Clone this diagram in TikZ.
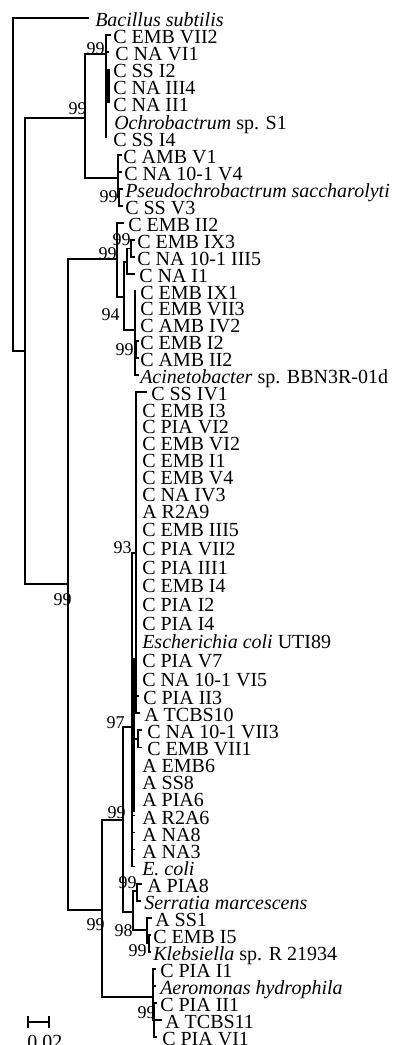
\documentclass[tikz,border=0pt]{standalone}
\usepackage{fontspec}
\setmainfont{Liberation Serif}
\tikzset{
  br/.style={line width=1.2pt, line cap=rect},
  thickbr/.style={line width=2.4pt},
  leaflab/.style={anchor=base west, inner sep=0pt, font=\fontsize{15}{18}\selectfont},
  bs/.style={anchor=base east, inner sep=0pt, font=\fontsize{13.5}{16}\selectfont},
}
\newcommand{\mkleaf}[5]{\coordinate (#1) at (#2,#3);\node[leaflab] (#1t) at (#4,#3+8.5) {#5};}
\begin{document}
\begin{tikzpicture}[x=0.75pt,y=-0.75pt]
\useasboundingbox (0,0) rectangle (398,1045);
% leaves
\mkleaf{l1}{88}{18}{95}{\textit{Bacillus subtilis}}
\mkleaf{l2}{110}{35.1}{113}{C EMB VII2}
\mkleaf{l3}{108}{52.2}{115}{C NA VI1}
\mkleaf{l4}{108}{69.3}{113}{C SS I2}
\mkleaf{l5}{108}{86.4}{113}{C NA III4}
\mkleaf{l6}{108}{103.5}{113}{C NA II1}
\mkleaf{l7}{106}{120.6}{114}{\textit{Ochrobactrum} sp. S1}
\mkleaf{l8}{106}{137.7}{113}{C SS I4}
\mkleaf{l9}{121}{154.8}{123}{C AMB V1}
\mkleaf{l10}{121}{171.9}{124}{C NA 10-1 V4}
\mkleaf{l11}{122}{189}{125}{\textit{Pseudochrobactrum saccharolyti}}
\mkleaf{l12}{122}{206.1}{125}{C SS V3}
\mkleaf{l13}{123}{223.2}{128}{C EMB II2}
\mkleaf{l14}{134}{240.05}{137}{C EMB IX3}
\mkleaf{l15}{134}{256.9}{137}{C NA 10-1 III5}
\mkleaf{l16}{134}{273.75}{139}{C NA I1}
\mkleaf{l17}{135}{290.6}{140}{C EMB IX1}
\mkleaf{l18}{135}{307.45}{140}{C EMB VII3}
\mkleaf{l19}{135}{324.3}{140}{C AMB IV2}
\mkleaf{l20}{138}{341.15}{140}{C EMB I2}
\mkleaf{l21}{138}{358}{140}{C AMB II2}
\mkleaf{l22}{138}{374.85}{140}{\textit{Acinetobacter} sp. BBN3R-01d}
\mkleaf{l23}{146}{391.7}{151}{C SS IV1}
\mkleaf{l24}{136}{408.55}{142}{C EMB I3}
\mkleaf{l25}{136}{425.4}{142}{C PIA VI2}
\mkleaf{l26}{136}{442.25}{142}{C EMB VI2}
\mkleaf{l27}{136}{459.1}{142}{C EMB I1}
\mkleaf{l28}{136}{475.95}{142}{C EMB V4}
\mkleaf{l29}{136}{492.8}{142}{C NA IV3}
\mkleaf{l30}{136}{509.65}{142}{A R2A9}
\mkleaf{l31}{136}{528.3}{142}{C EMB III5}
\mkleaf{l32}{136}{546.95}{142}{C PIA VII2}
\mkleaf{l33}{136}{565.6}{142}{C PIA III1}
\mkleaf{l34}{136}{584.25}{142}{C EMB I4}
\mkleaf{l35}{136}{602.9}{142}{C PIA I2}
\mkleaf{l36}{136}{621.55}{142}{C PIA I4}
\mkleaf{l37}{136}{640.2}{142}{\textit{Escherichia coli} UTI89}
\mkleaf{l38}{136}{658.85}{142}{C PIA V7}
\mkleaf{l39}{136}{677.5}{142}{C NA 10-1 VI5}
\mkleaf{l40}{138}{696.15}{143}{C PIA II3}
\mkleaf{l41}{139}{713.2}{144}{A TCBS10}
\mkleaf{l42}{141}{730.25}{147}{C NA 10-1 VII3}
\mkleaf{l43}{141}{747.3}{147}{C EMB VII1}
\mkleaf{l44}{134}{764.35}{142}{A EMB6}
\mkleaf{l45}{134}{781.4}{142}{A SS8}
\mkleaf{l46}{134}{798.45}{142}{A PIA6}
\mkleaf{l47}{134}{815.5}{142}{A R2A6}
\mkleaf{l48}{134}{832.55}{142}{A NA8}
\mkleaf{l49}{134}{849.6}{142}{A NA3}
\mkleaf{l50}{134}{866.65}{142}{\textit{E. coli}}
\mkleaf{l51}{141}{883.7}{147}{A PIA8}
\mkleaf{l52}{140}{900.75}{144}{\textit{Serratia marcescens}}
\mkleaf{l53}{151}{917.8}{155}{A SS1}
\mkleaf{l54}{150}{934.85}{153}{C EMB I5}
\mkleaf{l55}{150}{951.9}{153}{\textit{Klebsiella} sp. R 21934}
\mkleaf{l56}{155}{968.95}{160}{C PIA I1}
\mkleaf{l57}{155}{986}{160}{\textit{Aeromonas hydrophila}}
\mkleaf{l58}{156}{1003.05}{160}{C PIA II1}
\mkleaf{l59}{161}{1020.1}{165}{A TCBS11}
\mkleaf{l60}{156}{1037.15}{162}{C PIA VI1}
% internal nodes
\coordinate (r0) at (13,184);
\coordinate (a1) at (25,351);
\coordinate (nA) at (85,118);
\coordinate (nB) at (106,54);
\coordinate (nB2) at (108,86.4);
\coordinate (nC) at (118,178);
\coordinate (nC2) at (119,197.5);
\coordinate (nD) at (68,584);
\coordinate (nN2) at (117,259);
\coordinate (nP) at (124,297);
\coordinate (nQ) at (127,262);
\coordinate (nT) at (131,248.5);
\coordinate (nR) at (135,330);
\coordinate (nS) at (136,350);
\coordinate (nE) at (102,910);
\coordinate (nF) at (123,820);
\coordinate (nJ) at (132,727);
\coordinate (nK) at (136,553);
\coordinate (nL) at (138,739);
\coordinate (nG) at (133,912);
\coordinate (nH) at (137,891);
\coordinate (nI) at (147,930);
\coordinate (nI2) at (149,943);
\coordinate (nZ) at (153,997);
\coordinate (nZ2) at (154,1020);
\coordinate (j2a) at (133.5,658);
\coordinate (j2b) at (133.5,812);
% branches
\draw[br] (r0) |- (l1) (r0) |- (a1);
\draw[br] (a1) |- (nA) (a1) |- (nD);
\draw[br] (nA) |- (nB) (nA) |- (nC);
\foreach \c in {l2,l3,nB2,l7,l8} \draw[br] (nB) |- (\c);
\foreach \c in {l4,l5,l6} \draw[thickbr] (nB2) |- (\c);
\foreach \c in {l9,l10,nC2} \draw[br] (nC) |- (\c);
\foreach \c in {l11,l12} \draw[br] (nC2) |- (\c);
\draw[br] (nD) |- (nN2) (nD) |- (nE);
\draw[br] (nN2) |- (l13) (nN2) |- (nP);
\draw[br] (nP) |- (nQ) (nP) |- (nR);
\draw[br] (nQ) |- (nT) (nQ) |- (l16);
\draw[br] (nT) |- (l14) (nT) |- (l15);
\foreach \c in {l17,l18,l19,nS,l22} \draw[br] (nR) |- (\c);
\draw[br] (nS) |- (l20) (nS) |- (l21);
\draw[br] (nE) |- (nF) (nE) |- (nZ);
\draw[br] (nF) |- (nJ) (nF) |- (nG);
\foreach \c in {nK,nL,l44,l45,l46,l47,l48,l49,l50} \draw[br] (nJ) |- (\c);
\foreach \c in {l23,l24,l25,l26,l27,l28,l29,l30,l31,l32,l33,l34,l35,l36,l37,l38,l39,l40,l41} \draw[br] (nK) |- (\c);
\draw[br] (nL) |- (l42) (nL) |- (l43);
\draw[thickbr] (j2a) -- (j2b);
\draw[br] (nG) |- (nH) (nG) |- (nI);
\draw[br] (nH) |- (l51) (nH) |- (l52);
\draw[br] (nI) |- (l53) (nI) |- (nI2);
\draw[br] (nI2) |- (l54) (nI2) |- (l55);
\foreach \c in {l56,l57,nZ2} \draw[br] (nZ) |- (\c);
\foreach \c in {l58,l59,l60} \draw[br] (nZ2) |- (\c);
% bootstrap values
\node[bs] (bA) at (87,115) {99};
\node[bs] (bB) at (105,55) {99};
\node[bs] (bC2) at (118,202) {99};
\node[bs] (bN2) at (117,259) {99};
\node[bs] (bT) at (131,245) {99};
\node[bs] (bP) at (120,320) {94};
\node[bs] (bS) at (134,355) {99};
\node[bs] (bK) at (132,553) {93};
\node[bs] (bD) at (72,605) {99};
\node[bs] (bJ) at (125,728) {97};
\node[bs] (bF) at (126,818) {99};
\node[bs] (bE) at (105,930) {99};
\node[bs] (bH) at (137,888) {99};
\node[bs] (bG) at (133,936) {98};
\node[bs] (bI2) at (147,956) {99};
\node[bs] (bZ2) at (156,1018) {99};
% scale bar
\coordinate (sb1) at (28,1022);
\coordinate (sb2) at (49,1022);
\draw[br] (sb1) -- (sb2);
\draw[br] (sb1) ++(0,-5) -- ++(0,10);
\draw[br] (sb2) ++(0,-5) -- ++(0,10);
\node[leaflab] (sbt) at (27,1048.5) {0.02};
\end{tikzpicture}
\end{document}
